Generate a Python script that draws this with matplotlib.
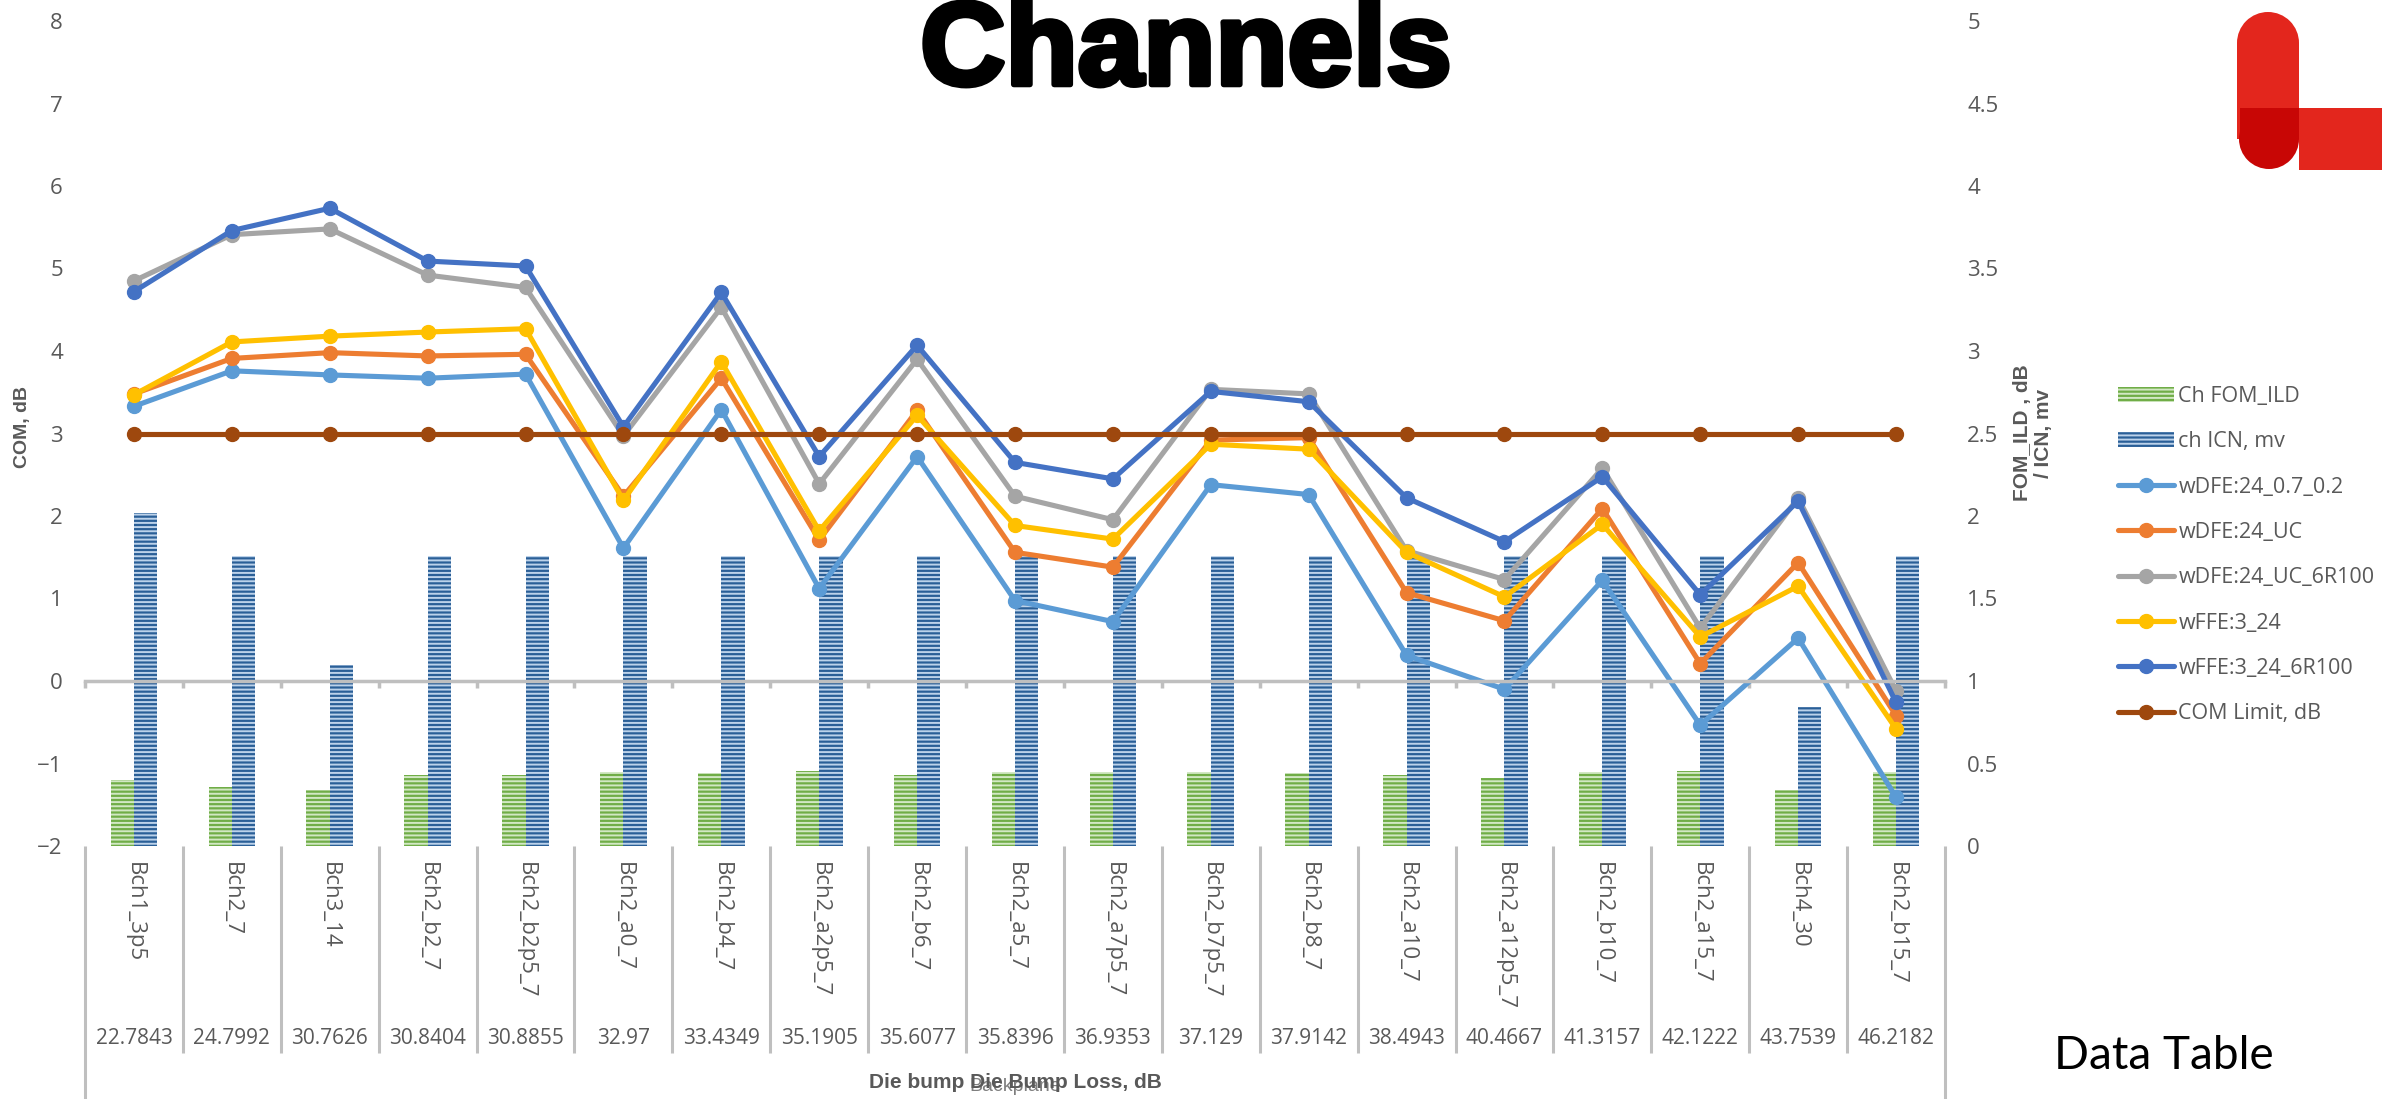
import numpy as np
import matplotlib
matplotlib.use("Agg")
import matplotlib.pyplot as plt
import matplotlib.patheffects as pe
from matplotlib.patches import Rectangle, Circle
from matplotlib.ticker import FuncFormatter

# channels, ordered by die bump loss
categories = ["Bch1_3p5", "Bch2_7", "Bch3_14", "Bch2_b2_7", "Bch2_b2p5_7",
              "Bch2_a0_7", "Bch2_b4_7", "Bch2_a2p5_7", "Bch2_b6_7", "Bch2_a5_7",
              "Bch2_a7p5_7", "Bch2_b7p5_7", "Bch2_b8_7", "Bch2_a10_7",
              "Bch2_a12p5_7", "Bch2_b10_7", "Bch2_a15_7", "Bch4_30", "Bch2_b15_7"]
die_loss = ["22.7843", "24.7992", "30.7626", "30.8404", "30.8855", "32.97",
            "33.4349", "35.1905", "35.6077", "35.8396", "36.9353", "37.129",
            "37.9142", "38.4943", "40.4667", "41.3157", "42.1222", "43.7539",
            "46.2182"]

# bars, right axis
fom_ild = [0.40, 0.36, 0.34, 0.43, 0.43, 0.45, 0.44, 0.456, 0.43, 0.45,
           0.45, 0.45, 0.44, 0.43, 0.41, 0.45, 0.456, 0.34, 0.45]
icn_mv = [2.02, 1.76, 1.10, 1.76, 1.76, 1.76, 1.76, 1.76, 1.76, 1.76,
          1.76, 1.76, 1.76, 1.76, 1.76, 1.76, 1.76, 0.845, 1.76]

# COM results, left axis
wdfe_07_02 = [3.33, 3.76, 3.71, 3.67, 3.72, 1.61, 3.29, 1.12, 2.72, 0.975,
              0.72, 2.38, 2.26, 0.31, -0.10, 1.22, -0.535, 0.52, -1.41]
wdfe_uc = [3.48, 3.91, 3.98, 3.94, 3.96, 2.24, 3.67, 1.71, 3.28, 1.56,
           1.38, 2.92, 2.95, 1.07, 0.73, 2.09, 0.21, 1.435, -0.42]
wdfe_uc_6r100 = [4.85, 5.41, 5.48, 4.92, 4.77, 2.97, 4.53, 2.39, 3.90, 2.24,
                 1.955, 3.535, 3.48, 1.58, 1.23, 2.58, 0.64, 2.22, -0.12]
wffe_3_24 = [3.47, 4.11, 4.18, 4.23, 4.27, 2.19, 3.87, 1.82, 3.22, 1.885,
             1.72, 2.87, 2.81, 1.56, 1.02, 1.90, 0.535, 1.15, -0.58]
wffe_3_24_6r100 = [4.72, 5.46, 5.73, 5.09, 5.03, 3.08, 4.71, 2.72, 4.07, 2.65,
                   2.45, 3.51, 3.385, 2.22, 1.69, 2.475, 1.045, 2.18, -0.26]
com_limit = [3.0] * len(categories)

plt.rcParams["font.family"] = ["Open Sans", "DejaVu Sans"]
plt.rcParams["hatch.linewidth"] = 1.4

W, H = 2382, 1099
GREY = "#595959"
AXGREY = "#BFBFBF"
NARROW = ["Liberation Sans Narrow", "Liberation Sans", "DejaVu Sans"]

fig = plt.figure(figsize=(W / 100, H / 100), dpi=100)
ax = fig.add_axes([85 / W, 1 - 846 / H, 1860 / W, 825 / H])
ax2 = ax.twinx()

x = np.arange(len(categories))
bw = 0.238
b1 = ax2.bar(x - bw / 2, fom_ild, bw, color="#70AD47", edgecolor="#D2E8C4",
             linewidth=0, hatch="----", label="Ch FOM_ILD")
b2 = ax2.bar(x + bw / 2, icn_mv, bw, color="#2A5F97", edgecolor="#BCD2EA",
             linewidth=0, hatch="----", label="ch ICN, mv")
ax2.set_ylim(0, 5)
ax2.set_yticks(np.arange(0, 5.01, 0.5))
ax2.yaxis.set_major_formatter(FuncFormatter(lambda v, p: "%g" % v))
ax2.tick_params(axis="y", length=0, labelsize=16, labelcolor=GREY, pad=16)

# line series drawn above the bars
ax.set_zorder(ax2.get_zorder() + 1)
ax.patch.set_visible(False)
series = [
    (wdfe_07_02, "wDFE:24_0.7_0.2", "#5B9BD5"),
    (wdfe_uc, "wDFE:24_UC", "#ED7D31"),
    (wdfe_uc_6r100, "wDFE:24_UC_6R100", "#A5A5A5"),
    (wffe_3_24, "wFFE:3_24", "#FFC000"),
    (wffe_3_24_6r100, "wFFE:3_24_6R100", "#4472C4"),
    (com_limit, "COM Limit, dB", "#9E480E"),
]
lines = []
for vals, lab, col in series:
    ln, = ax.plot(x, vals, color=col, lw=3.7, marker="o", ms=10,
                  solid_capstyle="round", solid_joinstyle="round", label=lab)
    lines.append(ln)

ax.set_xlim(-0.5, len(categories) - 0.5)
ax.set_ylim(-2, 8)
ax.set_yticks(range(-2, 9))
ax.tick_params(axis="y", length=0, labelsize=16, labelcolor=GREY, pad=16)

for a in (ax, ax2):
    for s in ("top", "left", "right"):
        a.spines[s].set_visible(False)
ax2.spines["bottom"].set_visible(False)
ax.spines["bottom"].set_position(("data", 0))
ax.spines["bottom"].set_color(AXGREY)
ax.spines["bottom"].set_linewidth(2.5)
ax.set_xticks(np.arange(-0.5, len(categories), 1))
ax.set_xticklabels([])
ax.tick_params(axis="x", length=5, width=2.5, color=AXGREY, direction="out")

# two-level category table under the plot
trans = ax.get_xaxis_transform()
bounds = np.arange(-0.5, len(categories), 1)
for i, b in enumerate(bounds):
    outer = i == 0 or i == len(bounds) - 1
    ax.plot([b, b], [0, -0.31 if outer else -0.251], transform=trans,
            clip_on=False, color=AXGREY, lw=2.2, solid_capstyle="butt")
for i, (name, loss) in enumerate(zip(categories, die_loss)):
    ax.text(i, -0.02, name, transform=trans, rotation=-90, ha="center",
            va="top", fontsize=16, color=GREY)
    ax.text(i, -0.233, loss, transform=trans, ha="center", va="center",
            fontsize=15, color=GREY)

ax.text(0.5, -0.292, "Backplane", transform=ax.transAxes, ha="center",
        va="center", fontsize=14, color="#7F7F7F", family=NARROW)
ax.text(0.5, -0.287, "Die bump Die Bump Loss, dB", transform=ax.transAxes,
        ha="center", va="center", fontsize=15, color=GREY,
        fontweight="bold", family=NARROW)

fig.text(22 / W, 1 - 427 / H, "COM, dB", rotation=90, ha="center",
         va="center", fontsize=14, color=GREY, fontweight="bold", family=NARROW)
fig.text(2033 / W, 1 - 433 / H, "FOM_ILD , dB\n/ ICN, mv", rotation=90,
         ha="center", va="center", multialignment="center", fontsize=15,
         color=GREY, fontweight="bold", family=NARROW, linespacing=1.1)

title = fig.text(1186 / W, 1 - 54 / H, "Channels", ha="center", va="center",
                 fontsize=85, fontweight="heavy",
                 family=["Liberation Sans", "DejaVu Sans"], color="black")
title.set_path_effects([pe.withStroke(linewidth=4, foreground="black")])
fig.text(2054 / W, 1 - 1056 / H, "Data Table", ha="left", va="center",
         fontsize=33, family=["Lato", "DejaVu Sans"], color="black")

fig.legend(handles=[b1, b2] + lines, loc="upper left",
           bbox_to_anchor=(2118 / W, 1 - 386 / H), frameon=False,
           fontsize=15.5, labelcolor=GREY, borderpad=0, borderaxespad=0,
           labelspacing=1.13, handlelength=2.6, handletextpad=0.2,
           numpoints=1)

# red logo mark in the corner
lg = fig.add_axes([0, 0, 1, 1], zorder=-5)
lg.set_xlim(0, W)
lg.set_ylim(H, 0)
lg.axis("off")
red, dark = "#E3261D", "#C80605"
lg.add_patch(Circle((2268, 43), 31, color=red, lw=0))
lg.add_patch(Rectangle((2237, 43), 62, 96, color=red, lw=0))
lg.add_patch(Rectangle((2299, 108), 83, 62, color=red, lw=0))
lg.add_patch(Rectangle((2240, 108), 59, 31, color=dark, lw=0))
lg.add_patch(Circle((2269, 139), 30, color=dark, lw=0))

fig.savefig("out.png", dpi=100)
